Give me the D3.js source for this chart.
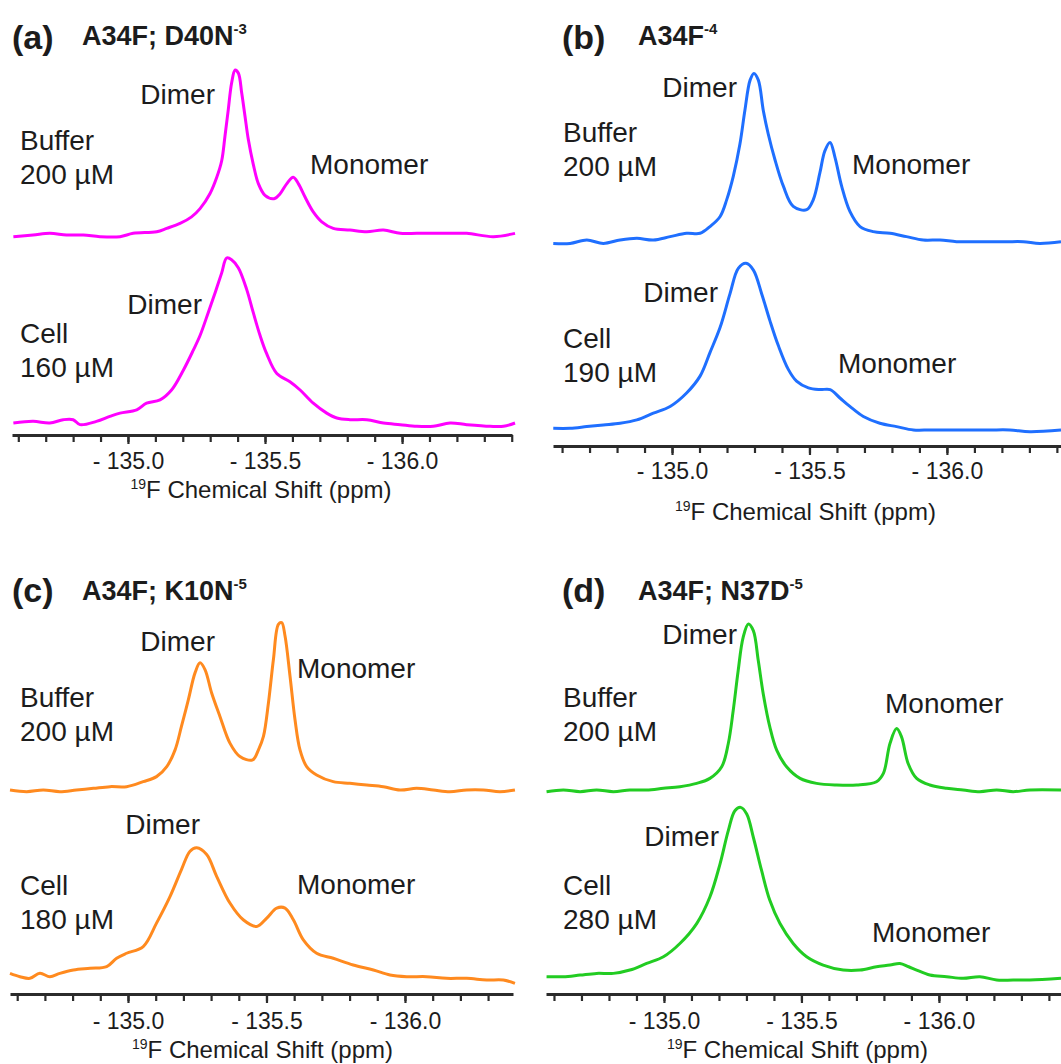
<!DOCTYPE html>
<html>
<head>
<meta charset="utf-8">
<script src="https://cdn.jsdelivr.net/npm/d3@7"></script>
<style>
  body { margin: 0; background: #fff; }
  svg { display: block; }
  text { font-family: "Liberation Sans", Arial, sans-serif; fill: #1c1c1c; }
</style>
</head>
<body>
<svg id="chart" width="1061" height="1064"></svg>
<script>
// ---- data: [ppm, intensity (a.u.)] ----
const aBuffer = [[-134.582,-1],[-134.654,0],[-134.715,1],[-134.776,0],[-134.837,0],[-134.898,-1],[-134.971,-1],[-135.019,1],[-135.105,2],[-135.141,4],[-135.190,7],[-135.232,11],[-135.263,16],[-135.299,25],[-135.324,35],[-135.342,45],[-135.354,60],[-135.366,76],[-135.378,92],[-135.391,100],[-135.403,98],[-135.415,86],[-135.427,72],[-135.439,58],[-135.457,43],[-135.476,31],[-135.500,24],[-135.533,22],[-135.555,25],[-135.579,31],[-135.603,35],[-135.622,31],[-135.646,23],[-135.676,14],[-135.707,8],[-135.749,4],[-135.810,3],[-135.871,2],[-135.932,3],[-135.993,1],[-136.054,1],[-136.114,1],[-136.175,1],[-136.236,1],[-136.333,-1],[-136.412,1]];
const aCell = [[-134.582,0],[-134.654,1],[-134.715,0],[-134.764,2],[-134.800,2],[-134.825,-1],[-134.885,1],[-134.934,4],[-134.971,6],[-135.032,8],[-135.068,12],[-135.117,14],[-135.159,20],[-135.202,32],[-135.238,44],[-135.263,53],[-135.293,67],[-135.318,79],[-135.342,91],[-135.360,100],[-135.378,99],[-135.403,94],[-135.433,81],[-135.457,67],[-135.482,53],[-135.506,42],[-135.543,30],[-135.591,25],[-135.628,20],[-135.676,12],[-135.725,6],[-135.762,3],[-135.810,2],[-135.871,2],[-135.932,0],[-135.993,-1],[-136.054,-2],[-136.114,-2],[-136.175,0],[-136.236,-1],[-136.321,-2],[-136.370,-2],[-136.412,0]];

const bBuffer = [[-134.568,-1],[-134.629,-1],[-134.690,1],[-134.750,-1],[-134.811,1],[-134.872,2],[-134.932,1],[-134.993,3],[-135.053,5],[-135.102,5],[-135.138,9],[-135.175,15],[-135.199,25],[-135.223,39],[-135.247,58],[-135.265,78],[-135.284,96],[-135.298,100],[-135.314,96],[-135.332,78],[-135.350,64],[-135.374,49],[-135.405,33],[-135.441,21],[-135.490,19],[-135.514,25],[-135.538,41],[-135.556,54],[-135.575,59],[-135.593,50],[-135.617,33],[-135.647,18],[-135.684,9],[-135.732,6],[-135.793,5],[-135.853,3],[-135.914,1],[-135.975,1],[-136.035,0],[-136.096,0],[-136.156,0],[-136.217,0],[-136.278,0],[-136.338,-1],[-136.415,0]];
const bCell = [[-134.568,0],[-134.629,0],[-134.690,1],[-134.750,2],[-134.811,3],[-134.872,5],[-134.932,9],[-134.993,13],[-135.053,21],[-135.102,31],[-135.138,45],[-135.175,60],[-135.211,80],[-135.241,95],[-135.269,98],[-135.296,94],[-135.326,80],[-135.356,64],[-135.387,49],[-135.423,35],[-135.453,28],[-135.496,24],[-135.538,23],[-135.575,23],[-135.611,18],[-135.647,13],[-135.696,7],[-135.756,3],[-135.817,1],[-135.878,-1],[-135.938,-1],[-136.011,-1],[-136.084,-1],[-136.156,-1],[-136.229,-1],[-136.302,-2],[-136.415,-1]];

const cBuffer = [[-134.574,0],[-134.634,-1],[-134.694,0],[-134.754,-1],[-134.814,0],[-134.875,1],[-134.935,2],[-134.995,2],[-135.055,5],[-135.103,8],[-135.140,14],[-135.170,24],[-135.193,38],[-135.218,54],[-135.242,70],[-135.260,76],[-135.278,72],[-135.302,58],[-135.332,44],[-135.368,28],[-135.404,20],[-135.450,18],[-135.471,24],[-135.489,32],[-135.507,52],[-135.525,78],[-135.543,99],[-135.555,100],[-135.567,92],[-135.585,68],[-135.603,42],[-135.621,24],[-135.645,14],[-135.681,9],[-135.741,5],[-135.801,4],[-135.862,3],[-135.922,2],[-135.982,0],[-136.042,1],[-136.102,0],[-136.162,-1],[-136.223,0],[-136.283,0],[-136.343,-1],[-136.397,0]];
const cCell = [[-134.574,1],[-134.610,-1],[-134.646,-2],[-134.682,1],[-134.718,-1],[-134.754,1],[-134.803,3],[-134.863,4],[-134.923,5],[-134.959,10],[-134.995,13],[-135.055,17],[-135.103,31],[-135.152,47],[-135.193,63],[-135.224,74],[-135.248,76],[-135.284,72],[-135.320,59],[-135.368,43],[-135.416,33],[-135.465,29],[-135.501,34],[-135.537,40],[-135.567,40],[-135.597,33],[-135.633,21],[-135.681,13],[-135.741,10],[-135.813,6],[-135.886,3],[-135.946,0],[-136.006,-1],[-136.078,-1],[-136.150,-2],[-136.223,-2],[-136.295,-3],[-136.355,-3],[-136.397,-5]];

const dBuffer = [[-134.573,-1],[-134.634,0],[-134.695,-1],[-134.755,0],[-134.816,-1],[-134.876,0],[-134.937,0],[-134.998,1],[-135.058,2],[-135.119,4],[-135.167,7],[-135.210,14],[-135.234,28],[-135.252,48],[-135.270,72],[-135.288,92],[-135.307,100],[-135.325,96],[-135.343,78],[-135.361,58],[-135.385,38],[-135.410,24],[-135.446,14],[-135.495,7],[-135.555,4],[-135.628,3],[-135.701,3],[-135.773,5],[-135.798,10],[-135.822,28],[-135.846,37],[-135.864,32],[-135.888,16],[-135.919,7],[-135.967,3],[-136.028,1],[-136.088,0],[-136.149,-1],[-136.210,0],[-136.270,-1],[-136.331,0],[-136.444,0]];
const dCell = [[-134.573,0],[-134.634,0],[-134.695,1],[-134.755,2],[-134.816,2],[-134.876,4],[-134.937,8],[-134.998,12],[-135.058,20],[-135.119,32],[-135.167,48],[-135.204,68],[-135.234,88],[-135.258,100],[-135.279,102],[-135.301,98],[-135.325,84],[-135.355,64],[-135.385,46],[-135.422,32],[-135.470,20],[-135.519,12],[-135.579,7],[-135.652,4],[-135.713,4],[-135.773,6],[-135.822,7],[-135.858,8],[-135.890,6],[-135.919,4],[-135.967,1],[-136.028,0],[-136.088,-1],[-136.149,0],[-136.210,-2],[-136.270,-2],[-136.331,-2],[-136.444,-1]];

const minorTicks = [-134.6,-134.7,-134.8,-134.9,-135.0,-135.1,-135.2,-135.3,-135.4,-135.5,-135.6,-135.7,-135.8,-135.9,-136.0,-136.1,-136.2,-136.3,-136.4];
const majorTicks = [-135.0, -135.5, -136.0];
const panelLetters = ["(a)", "(b)", "(c)", "(d)"];
const panelMutants = ["A34F; D40N", "A34F", "A34F; K10N", "A34F; N37D"];
const panelSup = ["-3", "-4", "-5", "-5"];
const cellConc = ["160 µM", "190 µM", "180 µM", "280 µM"];

// ---- layout ----
const panels = [
  { x0: 12, x1: 512, dom: [-134.577, -136.401], axisY: 435, bufBase: 235, cellBase: 423, k: 1.65,
    color: "#ff00ff", buffer: aBuffer, cell: aCell, lx: 12, ly: 49, tx: 82, ty: 45, tickY: 469, titleY: 498,
    notes: [["Dimer", 215, 104, "end"], ["Monomer", 310, 174, "start"], ["Dimer", 202, 314, "end"]],
    condX: 20, bufY: 150, cellY: 343 },
  { x0: 553, x1: 1061, dom: [-134.567, -136.415], axisY: 446, bufBase: 241.7, cellBase: 428.3, k: 1.683,
    color: "#1f6fff", buffer: bBuffer, cell: bCell, lx: 562, ly: 49, tx: 638, ty: 45, tickY: 479, titleY: 520,
    notes: [["Dimer", 737, 97, "end"], ["Monomer", 852, 174, "start"], ["Dimer", 718, 302, "end"], ["Monomer", 838, 373, "start"]],
    condX: 563, bufY: 142, cellY: 348 },
  { x0: 10, x1: 513, dom: [-134.574, -136.390], axisY: 994, bufBase: 790, cellBase: 975, k: 1.673,
    color: "#ff8a1f", buffer: cBuffer, cell: cCell, lx: 12, ly: 602, tx: 82, ty: 600, tickY: 1029, titleY: 1058,
    notes: [["Dimer", 215, 651, "end"], ["Monomer", 297, 678, "start"], ["Dimer", 200, 834, "end"], ["Monomer", 297, 894, "start"]],
    condX: 20, bufY: 707, cellY: 895 },
  { x0: 546, x1: 1061, dom: [-134.571, -136.444], axisY: 994, bufBase: 790, cellBase: 976.7, k: 1.66,
    color: "#22cc22", buffer: dBuffer, cell: dCell, lx: 562, ly: 602, tx: 638, ty: 600, tickY: 1029, titleY: 1058,
    notes: [["Dimer", 737, 644, "end"], ["Monomer", 885, 713, "start"], ["Dimer", 719, 846, "end"], ["Monomer", 872, 942, "start"]],
    condX: 563, bufY: 707, cellY: 895 }
];

const svg = d3.select("#chart");

panels.forEach((p, i) => {
  const g = svg.append("g");

  const x = d3.scaleLinear().domain(p.dom).range([p.x0, p.x1]);
  const yBuf = d3.scaleLinear().domain([0, 100]).range([p.bufBase, p.bufBase - 100 * p.k]);
  const yCell = d3.scaleLinear().domain([0, 100]).range([p.cellBase, p.cellBase - 100 * p.k]);

  // spectra
  [[p.buffer, yBuf], [p.cell, yCell]].forEach(([data, y]) => {
    g.append("path")
      .datum(data)
      .attr("fill", "none")
      .attr("stroke", p.color)
      .attr("stroke-width", 3)
      .attr("stroke-linejoin", "round")
      .attr("d", d3.line()
        .x(d => x(d[0]))
        .y(d => y(d[1]))
        .curve(d3.curveCatmullRom.alpha(0.5)));
  });

  // minor ticks
  const minorAxis = g.append("g")
    .attr("transform", `translate(0, ${p.axisY})`)
    .call(d3.axisBottom(x)
      .tickValues(minorTicks.filter(t => t <= p.dom[0] && t >= p.dom[1] - 0.001))
      .tickSize(7)
      .tickSizeOuter(0)
      .tickFormat(""));
  minorAxis.select(".domain").attr("stroke", "#2b2b2b").attr("stroke-width", 3);
  minorAxis.selectAll(".tick line").attr("stroke", "#2b2b2b").attr("stroke-width", 2.2);

  // major tick labels
  const majorAxis = g.append("g")
    .attr("transform", `translate(0, ${p.axisY})`)
    .call(d3.axisBottom(x)
      .tickValues(majorTicks)
      .tickSize(9)
      .tickSizeOuter(0)
      .tickFormat(d => "- " + Math.abs(d).toFixed(1)));
  majorAxis.select(".domain").remove();
  majorAxis.selectAll(".tick line").attr("stroke", "#2b2b2b").attr("stroke-width", 2.2);
  majorAxis.selectAll(".tick text")
    .attr("y", p.tickY - p.axisY)
    .attr("dy", null)
    .style("font-size", "23px")
    .style("fill", "#1c1c1c")
    .style("font-family", "'Liberation Sans', Arial, sans-serif");

  // axis title
  const title = g.append("text")
    .attr("x", x(-135.5) - 4)
    .attr("y", p.titleY)
    .attr("text-anchor", "middle")
    .style("font-size", "24px");
  title.append("tspan").text("19").style("font-size", "14px").attr("dy", -9);
  title.append("tspan").text("F Chemical Shift (ppm)").attr("dy", 9);

  // panel letter and mutant name
  g.append("text")
    .attr("x", p.lx).attr("y", p.ly)
    .style("font-size", "34px").style("font-weight", "bold")
    .text(panelLetters[i]);
  const mt = g.append("text")
    .attr("x", p.tx).attr("y", p.ty)
    .style("font-size", "27px").style("font-weight", "bold");
  mt.append("tspan").text(panelMutants[i]);
  mt.append("tspan").text(panelSup[i]).style("font-size", "15px").attr("dy", -11);

  // conditions
  const cond = [["Buffer", "200 µM", p.bufY], ["Cell", cellConc[i], p.cellY]];
  cond.forEach(([a, b, yy]) => {
    g.append("text").attr("x", p.condX).attr("y", yy).style("font-size", "28px").text(a);
    g.append("text").attr("x", p.condX).attr("y", yy + 34).style("font-size", "28px").text(b);
  });

  // peak annotations
  p.notes.forEach(([t, xx, yy, anchor]) => {
    g.append("text")
      .attr("x", xx).attr("y", yy)
      .attr("text-anchor", anchor)
      .style("font-size", "28px")
      .text(t);
  });
});
</script>
</body>
</html>
